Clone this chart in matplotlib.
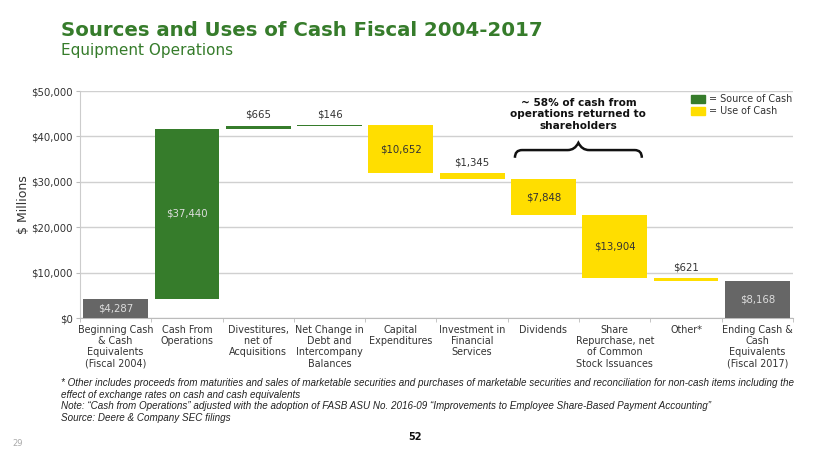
import matplotlib.pyplot as plt
from matplotlib.path import Path
from matplotlib.patches import PathPatch, Rectangle

categories = [
    "Beginning Cash\n& Cash\nEquivalents\n(Fiscal 2004)",
    "Cash From\nOperations",
    "Divestitures,\nnet of\nAcquisitions",
    "Net Change in\nDebt and\nIntercompany\nBalances",
    "Capital\nExpenditures",
    "Investment in\nFinancial\nServices",
    "Dividends",
    "Share\nRepurchase, net\nof Common\nStock Issuances",
    "Other*",
    "Ending Cash &\nCash\nEquivalents\n(Fiscal 2017)",
]
# signed changes; first and last are totals
changes = [4287, 37440, 665, 146, -10652, -1345, -7848, -13904, -621, 8168]
kinds = ["total", "source", "source", "source", "use", "use", "use", "use", "use", "total"]
inside_label = [True, True, False, False, True, False, True, True, False, True]

GREEN = "#367C2B"
YELLOW = "#FFDE00"
GRAY = "#666666"
colors = {"total": GRAY, "source": GREEN, "use": YELLOW}

fig = plt.figure(figsize=(8.3, 4.67), dpi=100)
ax = fig.add_axes([0.0964, 0.319, 0.859, 0.486])

running = 0
for i, (v, k) in enumerate(zip(changes, kinds)):
    if k == "total":
        bottom, height = 0, v
        running = v
    else:
        bottom = running if v > 0 else running + v
        height = abs(v)
        running += v
    ax.bar(i, height, bottom=bottom, width=0.91, color=colors[k], zorder=3)
    label = f"${abs(v):,}"
    if inside_label[i]:
        tc = "#333333" if k == "use" else "#dddddd"
        ax.text(i, bottom + height / 2, label, ha="center", va="center",
                fontsize=7.3, color=tc, zorder=4)
    else:
        ax.text(i, bottom + height + 1300, label, ha="center", va="bottom",
                fontsize=7.3, color="#333333", zorder=4)

ax.set_xlim(-0.5, len(categories) - 0.5)
ax.set_ylim(0, 50000)
ax.set_yticks(range(0, 50001, 10000))
ax.set_yticklabels([f"${t:,}" for t in range(0, 50001, 10000)], fontsize=7.3, color="#333333")
ax.set_xticks(range(len(categories)))
ax.set_xticklabels(categories, fontsize=6.9, color="#333333", linespacing=1.15)
ax.tick_params(axis="x", length=0, pad=5)
ax.set_xticks([i + 0.5 for i in range(-1, len(categories))], minor=True)
ax.tick_params(axis="x", which="minor", length=3, color="#bbbbbb")
ax.tick_params(axis="y", length=3, color="#bbbbbb", pad=2)
ax.grid(axis="y", color="#d0d0d0", linewidth=1, zorder=0)
for s in ["top", "right"]:
    ax.spines[s].set_visible(False)
ax.spines["left"].set_color("#cccccc")
ax.spines["bottom"].set_color("#bbbbbb")
ax.set_ylabel("$ Millions", fontsize=9, color="#333333", labelpad=1)

# curly brace over dividends + share repurchase
x0, x1 = 5.6, 7.38
xm = (x0 + x1) / 2
yt, yl, yp = 35300, 37000, 38600
verts = [
    (x0, yt), (x0, yl), (x0 + 0.1, yl), (x0 + 0.15, yl),
    (xm - 0.15, yl), (xm - 0.05, yl), (xm, yp),
    (xm + 0.05, yl), (xm + 0.15, yl),
    (x1 - 0.15, yl), (x1 - 0.1, yl), (x1, yl), (x1, yt),
]
codes = [Path.MOVETO, Path.CURVE3, Path.CURVE3, Path.LINETO,
         Path.LINETO, Path.CURVE3, Path.CURVE3,
         Path.CURVE3, Path.CURVE3,
         Path.LINETO, Path.LINETO, Path.CURVE3, Path.CURVE3]
ax.add_patch(PathPatch(Path(verts, codes), fill=False, lw=1.8, color="#111111", zorder=5))
ax.text(xm, 44900, "~ 58% of cash from\noperations returned to\nshareholders",
        ha="center", va="center", fontsize=7.6, fontweight="bold", color="#111111",
        linespacing=1.2)

# legend
fig.patches.append(Rectangle((691 / 830, 1 - 103 / 467), 14 / 830, 8 / 467,
                             transform=fig.transFigure, color=GREEN))
fig.patches.append(Rectangle((691 / 830, 1 - 115 / 467), 14 / 830, 8 / 467,
                             transform=fig.transFigure, color=YELLOW))
fig.text(709 / 830, 1 - 99 / 467, "= Source of Cash", fontsize=6.9, color="#333333", va="center")
fig.text(709 / 830, 1 - 111 / 467, "= Use of Cash", fontsize=6.9, color="#333333", va="center")

# titles
fig.text(61 / 830, 1 - 30 / 467, "Sources and Uses of Cash Fiscal 2004-2017",
         fontsize=14.2, fontweight="bold", color=GREEN, va="center")
fig.text(61 / 830, 1 - 50 / 467, "Equipment Operations", fontsize=11, color=GREEN, va="center")

notes = ("* Other includes proceeds from maturities and sales of marketable securities and purchases of "
         "marketable securities and reconciliation for non-cash items including the\n"
         "effect of exchange rates on cash and cash equivalents\n"
         "Note: \u201cCash from Operations\u201d adjusted with the adoption of FASB ASU No. 2016-09 "
         "\u201cImprovements to Employee Share-Based Payment Accounting\u201d\n"
         "Source: Deere & Company SEC filings")
fig.text(61 / 830, 1 - 378 / 467, notes, fontsize=7.1, style="italic", color="#222222",
         va="top", linespacing=1.2, family=["Liberation Sans", "DejaVu Sans"])
fig.text(415 / 830, 1 - 437 / 467, "52", fontsize=7, fontweight="bold", color="#111111",
         ha="center", va="center")
fig.text(12 / 830, 1 - 443 / 467, "29", fontsize=6, color="#aaaaaa", va="center")

fig.savefig("out.png", dpi=100)
